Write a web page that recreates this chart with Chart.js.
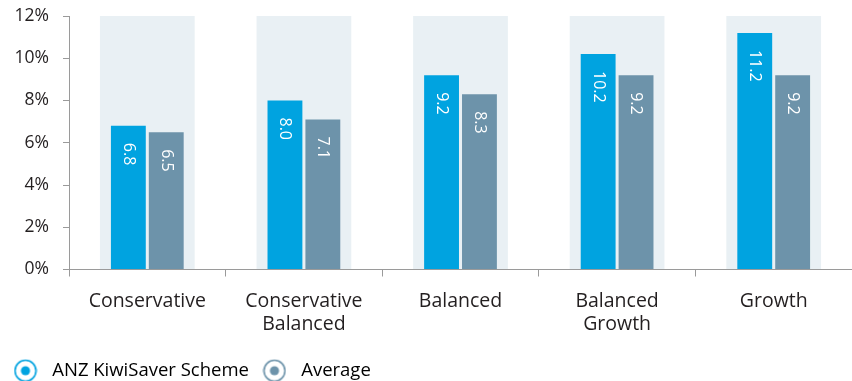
<!DOCTYPE html>
<html>
<head>
<meta charset="utf-8">
<script src="https://cdn.jsdelivr.net/npm/chart.js@4/dist/chart.umd.min.js"></script>
<style>
  html, body { margin: 0; padding: 0; background: #fff; }
  #wrap { width: 852px; height: 381px; }
</style>
</head>
<body>
<div id="wrap"><canvas id="returns-chart"></canvas></div>
<script>
// Fund types and annual returns (%)
const categories = ['Conservative', ['Conservative', 'Balanced'], 'Balanced', ['Balanced', 'Growth'], 'Growth'];
const anzValues = [6.8, 8.0, 9.2, 10.2, 11.2];
const averageValues = [6.5, 7.1, 8.3, 9.2, 9.2];
const yTicks = [0, 2, 4, 6, 8, 10, 12];
const yMax = 12;

const FONT = '"Open Sans", "Noto Sans", sans-serif';
const BLUE = '#00a3e0';
const GREY = '#6d93aa';
const SHADE = '#e9f0f4';

// Ring-and-dot legend marker
function makeMarker(color) {
  const c = document.createElement('canvas');
  c.width = 24;
  c.height = 24;
  const g = c.getContext('2d');
  g.strokeStyle = color;
  g.lineWidth = 1.6;
  g.beginPath();
  g.arc(12, 12, 10.5, 0, Math.PI * 2);
  g.stroke();
  g.fillStyle = color;
  g.beginPath();
  g.arc(12, 12, 4.6, 0, Math.PI * 2);
  g.fill();
  return c;
}

// White rotated value labels just under each bar top
const valueLabels = {
  id: 'valueLabels',
  afterDatasetsDraw(chart) {
    const ctx = chart.ctx;
    [0, 1].forEach(di => {
      const meta = chart.getDatasetMeta(di);
      const values = chart.data.datasets[di].data;
      meta.data.forEach((bar, i) => {
        ctx.save();
        ctx.translate(bar.x, bar.y + 17);
        ctx.rotate(Math.PI / 2);
        ctx.font = '16px ' + FONT;
        ctx.fillStyle = '#ffffff';
        ctx.textAlign = 'left';
        ctx.textBaseline = 'middle';
        ctx.fillText(values[i].toFixed(1), 0, 0);
        ctx.restore();
      });
    });
  }
};

// Push the legend row down a little
const legendOffset = {
  id: 'legendOffset',
  afterLayout(chart) {
    chart.legend.top += 9;
    chart.legend.bottom += 9;
  }
};

const ctx = document.getElementById('returns-chart').getContext('2d');
const chart = new Chart(ctx, {
  type: 'bar',
  data: {
    labels: categories,
    datasets: [
      {
        label: 'ANZ KiwiSaver Scheme',
        data: anzValues,
        backgroundColor: BLUE,
        categoryPercentage: 0.484,
        barPercentage: 0.92,
        order: 1
      },
      {
        label: 'Average',
        data: averageValues,
        backgroundColor: GREY,
        categoryPercentage: 0.484,
        barPercentage: 0.92,
        order: 1
      },
      {
        label: 'shade',
        data: categories.map(() => yMax),
        backgroundColor: SHADE,
        grouped: false,
        categoryPercentage: 0.605,
        barPercentage: 1,
        order: 2
      }
    ]
  },
  options: {
    responsive: true,
    maintainAspectRatio: false,
    animation: false,
    layout: { padding: { top: 16, left: 0, right: 0, bottom: 0 } },
    scales: {
      x: {
        offset: true,
        grid: { display: true, drawOnChartArea: false, offset: true, color: '#9a9a9a', tickLength: 7 },
        border: { color: '#9a9a9a', width: 1 },
        ticks: {
          padding: 13,
          color: '#231f20',
          maxRotation: 0,
          font: { family: FONT, size: 19.5, lineHeight: 1.18 }
        },
        afterFit(scale) { scale.height = 75; }
      },
      y: {
        min: 0,
        max: yMax,
        afterBuildTicks(scale) { scale.ticks = yTicks.map(v => ({ value: v })); },
        grid: { display: true, drawOnChartArea: false, color: '#9a9a9a', tickLength: 6 },
        border: { color: '#9a9a9a', width: 1 },
        ticks: {
          padding: 14,
          color: '#231f20',
          font: { family: FONT, size: 17.5 },
          callback: v => v + '%'
        },
        afterFit(scale) {
          scale.width = 69;
          // the tick padding would otherwise push the plot top down
          scale.paddingTop = 0;
          scale.paddingBottom = 0;
        }
      }
    },
    plugins: {
      tooltip: { enabled: false },
      legend: {
        position: 'bottom',
        align: 'start',
        labels: {
          usePointStyle: true,
          pointStyleWidth: 35,
          padding: 8,
          color: '#58595b',
          font: { family: FONT, size: 18.5 },
          filter: item => item.datasetIndex < 2,
          generateLabels(chart) {
            return chart.data.datasets.map((ds, i) => ({
              text: ds.label,
              pointStyle: makeMarker(ds.backgroundColor),
              fillStyle: ds.backgroundColor,
              strokeStyle: ds.backgroundColor,
              lineWidth: 0,
              hidden: false,
              datasetIndex: i
            }));
          }
        }
      }
    }
  },
  plugins: [valueLabels, legendOffset]
});
</script>
</body>
</html>
